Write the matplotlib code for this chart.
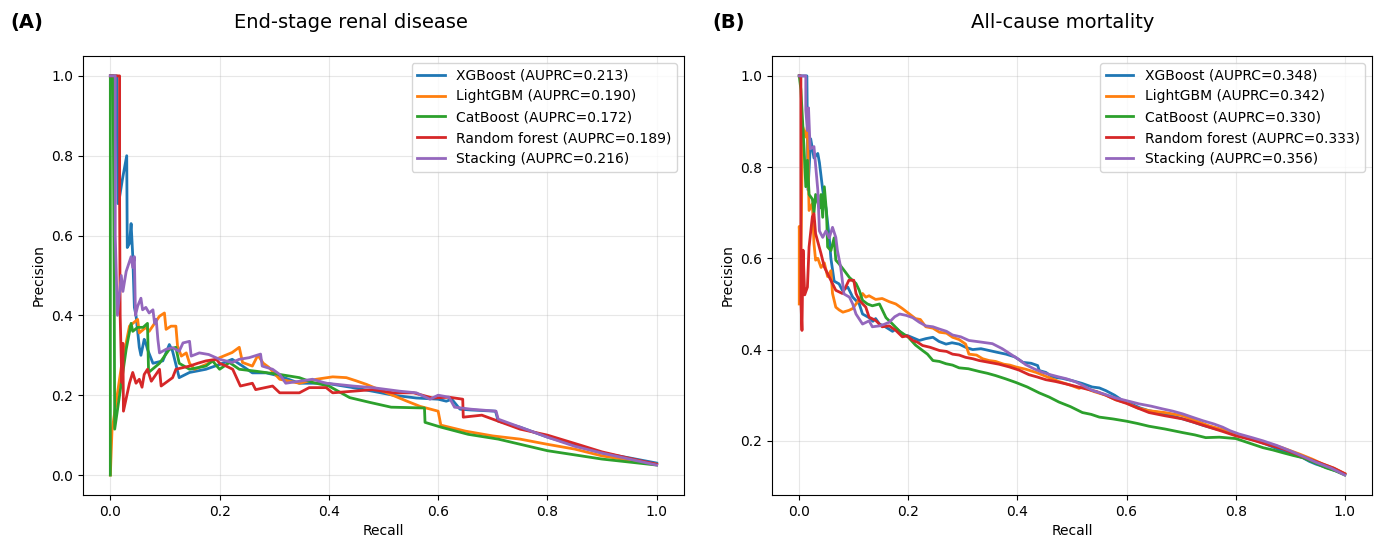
import matplotlib
matplotlib.use("Agg")
import matplotlib.pyplot as plt

# ---------------- Data: End-stage renal disease (panel A) ----------------
esrd_xgb_r = [0.0, 0.012, 0.014, 0.015, 0.022, 0.030, 0.031, 0.035, 0.038, 0.041, 0.044, 0.047, 0.053, 0.056, 0.062, 0.065, 0.068, 0.078, 0.096, 0.108, 0.114, 0.126, 0.145, 0.175, 0.2, 0.223, 0.242, 0.26, 0.285, 0.31, 0.346, 0.395, 0.444, 0.48, 0.518, 0.56, 0.6, 0.615, 0.625, 0.64, 0.66, 0.705, 0.71, 0.75, 0.8, 0.85, 0.9, 0.95, 1.0]
esrd_xgb_p = [1.0, 1.0, 0.68, 0.68, 0.74, 0.80, 0.57, 0.58, 0.63, 0.55, 0.42, 0.40, 0.32, 0.30, 0.34, 0.33, 0.315, 0.28, 0.286, 0.327, 0.31, 0.244, 0.257, 0.265, 0.277, 0.29, 0.273, 0.256, 0.256, 0.248, 0.23, 0.23, 0.219, 0.21, 0.20, 0.193, 0.19, 0.185, 0.19, 0.165, 0.163, 0.16, 0.135, 0.12, 0.095, 0.075, 0.055, 0.043, 0.03]

esrd_lgb_r = [0.0, 0.003, 0.02, 0.035, 0.05, 0.053, 0.065, 0.071, 0.09, 0.099, 0.102, 0.111, 0.12, 0.123, 0.13, 0.139, 0.145, 0.154, 0.175, 0.2, 0.223, 0.236, 0.242, 0.26, 0.27, 0.28, 0.29, 0.31, 0.346, 0.377, 0.407, 0.432, 0.45, 0.469, 0.506, 0.543, 0.567, 0.6, 0.605, 0.65, 0.7, 0.75, 0.8, 0.85, 0.9, 0.95, 1.0]
esrd_lgb_p = [0.0, 0.11, 0.27, 0.373, 0.39, 0.356, 0.37, 0.36, 0.398, 0.406, 0.365, 0.373, 0.373, 0.323, 0.298, 0.306, 0.28, 0.265, 0.277, 0.294, 0.307, 0.32, 0.282, 0.273, 0.3, 0.28, 0.27, 0.24, 0.23, 0.24, 0.246, 0.244, 0.236, 0.227, 0.206, 0.185, 0.172, 0.16, 0.125, 0.11, 0.098, 0.09, 0.077, 0.065, 0.048, 0.037, 0.027]

esrd_cat_r = [0.0, 0.0, 0.005, 0.007, 0.008, 0.029, 0.038, 0.041, 0.05, 0.06, 0.068, 0.07, 0.09, 0.108, 0.12, 0.126, 0.145, 0.175, 0.187, 0.2, 0.218, 0.236, 0.267, 0.31, 0.346, 0.37, 0.4, 0.438, 0.475, 0.514, 0.575, 0.576, 0.605, 0.655, 0.71, 0.8, 0.9, 1.0]
esrd_cat_p = [0.0, 1.0, 1.0, 0.5, 0.115, 0.315, 0.38, 0.36, 0.37, 0.37, 0.38, 0.257, 0.28, 0.315, 0.32, 0.28, 0.265, 0.273, 0.286, 0.265, 0.282, 0.265, 0.26, 0.252, 0.244, 0.232, 0.223, 0.194, 0.182, 0.17, 0.168, 0.132, 0.12, 0.102, 0.09, 0.061, 0.04, 0.025]

esrd_rf_r = [0.0, 0.017, 0.017, 0.018, 0.021, 0.023, 0.024, 0.035, 0.041, 0.047, 0.053, 0.058, 0.062, 0.068, 0.075, 0.09, 0.093, 0.114, 0.12, 0.145, 0.16, 0.175, 0.194, 0.2, 0.212, 0.224, 0.238, 0.26, 0.266, 0.297, 0.31, 0.346, 0.364, 0.395, 0.407, 0.444, 0.48, 0.518, 0.555, 0.59, 0.62, 0.645, 0.646, 0.68, 0.7, 0.75, 0.8, 0.86, 0.9, 0.95, 1.0]
esrd_rf_p = [1.0, 1.0, 0.68, 0.40, 0.232, 0.33, 0.16, 0.23, 0.257, 0.23, 0.24, 0.22, 0.252, 0.265, 0.235, 0.265, 0.223, 0.244, 0.265, 0.273, 0.28, 0.286, 0.29, 0.28, 0.273, 0.265, 0.223, 0.23, 0.214, 0.223, 0.206, 0.206, 0.219, 0.219, 0.206, 0.21, 0.214, 0.206, 0.206, 0.193, 0.195, 0.19, 0.145, 0.15, 0.14, 0.115, 0.1, 0.075, 0.058, 0.042, 0.027]

esrd_stk_r = [0.0, 0.009, 0.009, 0.013, 0.02, 0.023, 0.029, 0.038, 0.041, 0.044, 0.046, 0.05, 0.056, 0.059, 0.065, 0.071, 0.078, 0.081, 0.084, 0.087, 0.09, 0.102, 0.114, 0.126, 0.133, 0.145, 0.148, 0.163, 0.18, 0.2, 0.223, 0.236, 0.254, 0.275, 0.278, 0.297, 0.31, 0.321, 0.346, 0.37, 0.395, 0.444, 0.48, 0.53, 0.56, 0.585, 0.6, 0.62, 0.63, 0.66, 0.706, 0.71, 0.75, 0.8, 0.85, 0.9, 0.95, 1.0]
esrd_stk_p = [1.0, 1.0, 0.6, 0.4, 0.5, 0.46, 0.51, 0.547, 0.52, 0.547, 0.4, 0.423, 0.443, 0.414, 0.42, 0.406, 0.414, 0.38, 0.39, 0.34, 0.306, 0.315, 0.319, 0.31, 0.331, 0.335, 0.298, 0.306, 0.302, 0.29, 0.282, 0.29, 0.294, 0.303, 0.273, 0.265, 0.252, 0.23, 0.235, 0.24, 0.23, 0.223, 0.219, 0.21, 0.206, 0.19, 0.2, 0.195, 0.17, 0.165, 0.16, 0.14, 0.12, 0.095, 0.072, 0.055, 0.04, 0.025]

# ---------------- Data: All-cause mortality (panel B) ----------------
acm_xgb_r = [0.0, 0.014, 0.016, 0.021, 0.027, 0.034, 0.037, 0.043, 0.049, 0.055, 0.058, 0.064, 0.073, 0.079, 0.089, 0.098, 0.11, 0.116, 0.128, 0.135, 0.14, 0.147, 0.155, 0.163, 0.171, 0.178, 0.184, 0.192, 0.2, 0.21, 0.22, 0.232, 0.245, 0.256, 0.269, 0.28, 0.293, 0.305, 0.318, 0.333, 0.348, 0.363, 0.379, 0.395, 0.41, 0.425, 0.437, 0.44, 0.452, 0.464, 0.482, 0.5, 0.518, 0.537, 0.55, 0.562, 0.578, 0.593, 0.61, 0.625, 0.641, 0.66, 0.68, 0.703, 0.72, 0.74, 0.764, 0.78, 0.8, 0.82, 0.838, 0.855, 0.875, 0.9, 0.923, 0.935, 0.947, 0.97, 1.0]
acm_xgb_p = [1.0, 1.0, 0.75, 0.862, 0.82, 0.83, 0.81, 0.75, 0.71, 0.646, 0.6, 0.55, 0.544, 0.53, 0.537, 0.515, 0.5, 0.478, 0.47, 0.462, 0.468, 0.456, 0.452, 0.446, 0.44, 0.446, 0.44, 0.432, 0.43, 0.425, 0.42, 0.424, 0.427, 0.418, 0.412, 0.415, 0.412, 0.405, 0.4, 0.402, 0.398, 0.394, 0.39, 0.384, 0.372, 0.37, 0.365, 0.354, 0.35, 0.34, 0.337, 0.332, 0.326, 0.318, 0.316, 0.31, 0.3, 0.288, 0.28, 0.272, 0.266, 0.262, 0.256, 0.248, 0.242, 0.234, 0.226, 0.222, 0.215, 0.206, 0.2, 0.193, 0.183, 0.172, 0.163, 0.155, 0.149, 0.14, 0.127]

acm_lgb_r = [0.0, 0.0, 0.003, 0.006, 0.012, 0.015, 0.018, 0.024, 0.027, 0.03, 0.034, 0.04, 0.046, 0.052, 0.058, 0.061, 0.067, 0.073, 0.08, 0.091, 0.098, 0.104, 0.11, 0.116, 0.122, 0.128, 0.14, 0.152, 0.165, 0.177, 0.189, 0.201, 0.213, 0.222, 0.232, 0.245, 0.257, 0.27, 0.281, 0.293, 0.305, 0.311, 0.325, 0.336, 0.348, 0.36, 0.375, 0.386, 0.397, 0.415, 0.434, 0.455, 0.476, 0.497, 0.513, 0.519, 0.54, 0.562, 0.58, 0.6, 0.62, 0.641, 0.67, 0.703, 0.725, 0.751, 0.775, 0.8, 0.83, 0.855, 0.885, 0.917, 0.94, 0.96, 0.98, 1.0]
acm_lgb_p = [0.5, 0.67, 0.6, 0.89, 0.866, 0.89, 0.705, 0.72, 0.632, 0.596, 0.6, 0.58, 0.59, 0.56, 0.573, 0.523, 0.493, 0.487, 0.482, 0.486, 0.49, 0.5, 0.51, 0.523, 0.515, 0.518, 0.51, 0.512, 0.505, 0.5, 0.49, 0.479, 0.468, 0.466, 0.45, 0.447, 0.438, 0.436, 0.427, 0.422, 0.412, 0.39, 0.388, 0.38, 0.376, 0.374, 0.368, 0.366, 0.362, 0.357, 0.35, 0.34, 0.33, 0.322, 0.315, 0.318, 0.308, 0.3, 0.29, 0.283, 0.272, 0.266, 0.262, 0.255, 0.245, 0.233, 0.225, 0.215, 0.205, 0.196, 0.185, 0.171, 0.16, 0.149, 0.14, 0.128]

acm_cat_r = [0.0, 0.003, 0.009, 0.012, 0.015, 0.018, 0.024, 0.027, 0.03, 0.037, 0.04, 0.043, 0.046, 0.05, 0.052, 0.058, 0.064, 0.067, 0.073, 0.082, 0.092, 0.104, 0.11, 0.116, 0.125, 0.134, 0.147, 0.159, 0.171, 0.184, 0.2, 0.213, 0.226, 0.235, 0.245, 0.257, 0.269, 0.281, 0.293, 0.31, 0.33, 0.345, 0.36, 0.378, 0.397, 0.418, 0.44, 0.458, 0.476, 0.497, 0.519, 0.535, 0.55, 0.575, 0.6, 0.62, 0.641, 0.67, 0.703, 0.725, 0.745, 0.77, 0.8, 0.825, 0.85, 0.868, 0.886, 0.905, 0.923, 0.945, 0.965, 0.983, 1.0]
acm_cat_p = [1.0, 0.97, 0.837, 0.757, 0.815, 0.74, 0.73, 0.70, 0.74, 0.71, 0.74, 0.69, 0.757, 0.70, 0.625, 0.617, 0.645, 0.596, 0.588, 0.574, 0.558, 0.545, 0.53, 0.508, 0.5, 0.496, 0.5, 0.47, 0.456, 0.44, 0.427, 0.41, 0.398, 0.39, 0.376, 0.374, 0.369, 0.366, 0.36, 0.358, 0.352, 0.348, 0.343, 0.336, 0.328, 0.318, 0.305, 0.296, 0.285, 0.275, 0.262, 0.258, 0.252, 0.248, 0.243, 0.238, 0.232, 0.226, 0.218, 0.213, 0.207, 0.208, 0.205, 0.195, 0.185, 0.18, 0.174, 0.168, 0.163, 0.152, 0.141, 0.134, 0.125]

acm_rf_r = [0.0, 0.003, 0.003, 0.005, 0.007, 0.010, 0.015, 0.018, 0.024, 0.027, 0.030, 0.040, 0.046, 0.055, 0.067, 0.079, 0.085, 0.091, 0.100, 0.104, 0.110, 0.122, 0.128, 0.140, 0.152, 0.165, 0.177, 0.189, 0.198, 0.208, 0.217, 0.226, 0.24, 0.257, 0.27, 0.281, 0.293, 0.305, 0.318, 0.33, 0.348, 0.366, 0.385, 0.403, 0.421, 0.436, 0.452, 0.47, 0.488, 0.505, 0.525, 0.545, 0.562, 0.58, 0.6, 0.62, 0.641, 0.67, 0.703, 0.725, 0.751, 0.775, 0.8, 0.83, 0.855, 0.885, 0.911, 0.935, 0.96, 0.98, 1.0]
acm_rf_p = [1.0, 1.0, 0.508, 0.442, 0.618, 0.52, 0.537, 0.625, 0.691, 0.698, 0.654, 0.61, 0.581, 0.559, 0.53, 0.523, 0.537, 0.552, 0.552, 0.523, 0.508, 0.493, 0.471, 0.464, 0.45, 0.452, 0.442, 0.428, 0.43, 0.42, 0.416, 0.409, 0.405, 0.398, 0.396, 0.39, 0.388, 0.383, 0.38, 0.376, 0.372, 0.368, 0.362, 0.355, 0.345, 0.34, 0.334, 0.33, 0.325, 0.32, 0.314, 0.308, 0.3, 0.29, 0.282, 0.272, 0.262, 0.255, 0.248, 0.24, 0.23, 0.221, 0.211, 0.202, 0.193, 0.183, 0.171, 0.16, 0.149, 0.14, 0.128]

acm_stk_r = [0.0, 0.012, 0.012, 0.015, 0.017, 0.02, 0.027, 0.034, 0.037, 0.043, 0.049, 0.055, 0.061, 0.067, 0.07, 0.076, 0.082, 0.092, 0.098, 0.104, 0.116, 0.128, 0.134, 0.147, 0.155, 0.165, 0.175, 0.184, 0.196, 0.208, 0.22, 0.232, 0.245, 0.257, 0.27, 0.281, 0.296, 0.311, 0.33, 0.354, 0.372, 0.39, 0.403, 0.415, 0.43, 0.446, 0.46, 0.476, 0.49, 0.507, 0.522, 0.538, 0.56, 0.58, 0.6, 0.623, 0.645, 0.666, 0.685, 0.703, 0.72, 0.74, 0.76, 0.776, 0.79, 0.806, 0.83, 0.85, 0.875, 0.9, 0.925, 0.947, 0.975, 1.0]
acm_stk_p = [1.0, 1.0, 0.925, 0.88, 0.93, 0.84, 0.845, 0.75, 0.66, 0.646, 0.66, 0.645, 0.668, 0.646, 0.617, 0.58, 0.522, 0.515, 0.5, 0.478, 0.456, 0.463, 0.45, 0.452, 0.455, 0.46, 0.472, 0.478, 0.475, 0.47, 0.46, 0.452, 0.45, 0.445, 0.44, 0.432, 0.428, 0.42, 0.417, 0.413, 0.402, 0.388, 0.378, 0.367, 0.358, 0.35, 0.345, 0.34, 0.336, 0.329, 0.32, 0.31, 0.302, 0.294, 0.288, 0.281, 0.276, 0.27, 0.265, 0.259, 0.252, 0.244, 0.237, 0.23, 0.222, 0.215, 0.207, 0.2, 0.19, 0.178, 0.165, 0.153, 0.14, 0.125]

model_names = ["XGBoost", "LightGBM", "CatBoost", "Random forest", "Stacking"]
esrd_auprc = ["0.213", "0.190", "0.172", "0.189", "0.216"]
acm_auprc = ["0.348", "0.342", "0.330", "0.333", "0.356"]
colors = ["#1f77b4", "#ff7f0e", "#2ca02c", "#d62728", "#9467bd"]

esrd_curves = [(esrd_xgb_r, esrd_xgb_p), (esrd_lgb_r, esrd_lgb_p), (esrd_cat_r, esrd_cat_p),
               (esrd_rf_r, esrd_rf_p), (esrd_stk_r, esrd_stk_p)]
acm_curves = [(acm_xgb_r, acm_xgb_p), (acm_lgb_r, acm_lgb_p), (acm_cat_r, acm_cat_p),
              (acm_rf_r, acm_rf_p), (acm_stk_r, acm_stk_p)]

fig = plt.figure(figsize=(13.79, 5.43), dpi=100)
ax1 = fig.add_axes([0.0602, 0.0884, 0.4358, 0.8086])
ax2 = fig.add_axes([0.5598, 0.0884, 0.4352, 0.8086])

panels = [(ax1, esrd_curves, esrd_auprc, "(A)", "End-stage renal disease", 0.0073, 0.2545),
          (ax2, acm_curves, acm_auprc, "(B)", "All-cause mortality", 0.5163, 0.7709)]

for ax, curves, auprcs, tag, title, tag_x, title_x in panels:
    for (r, p), name, a, c in zip(curves, model_names, auprcs, colors):
        ax.plot(r, p, color=c, lw=2, label=f"{name} (AUPRC={a})")
    ax.grid(True, alpha=0.3)
    ax.set_xlabel("Recall", fontsize=10)
    ax.set_ylabel("Precision", fontsize=10)
    ax.tick_params(labelsize=10)
    ax.legend(loc="upper right", fontsize=10)
    fig.text(title_x, 0.959, title, ha="center", va="center", fontsize=14)
    fig.text(tag_x, 0.959, tag, ha="left", va="center", fontsize=14, fontweight="bold")

fig.savefig("out.png", dpi=100)
